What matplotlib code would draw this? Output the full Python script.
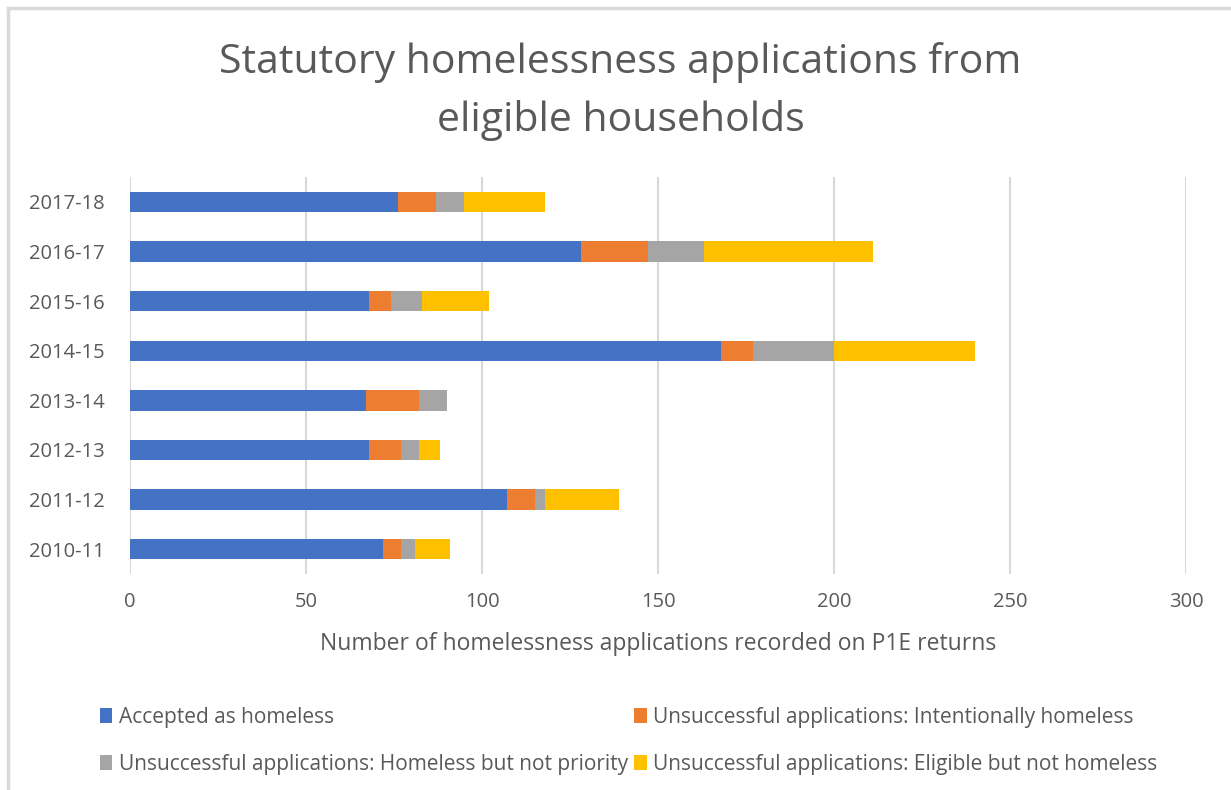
import numpy as np
import matplotlib.pyplot as plt
from matplotlib.lines import Line2D

# Financial years (bottom to top)
years = ["2010-11", "2011-12", "2012-13", "2013-14",
         "2014-15", "2015-16", "2016-17", "2017-18"]

# Values
accepted = [72, 107, 68, 67, 168, 68, 128, 76]
intentional = [5, 8, 9, 15, 9, 6, 19, 11]
not_priority = [4, 3, 5, 8, 23, 9, 16, 8]
not_homeless = [10, 21, 6, 0, 40, 19, 48, 23]

series = [
    ("Accepted as homeless", accepted, "#4472C4"),
    ("Unsuccessful applications: Intentionally homeless", intentional, "#ED7D31"),
    ("Unsuccessful applications: Homeless but not priority", not_priority, "#A5A5A5"),
    ("Unsuccessful applications: Eligible but not homeless", not_homeless, "#FFC000"),
]

plt.rcParams["font.family"] = ["Open Sans", "DejaVu Sans"]
text_col = "#595959"

fig = plt.figure(figsize=(12.31, 7.90), dpi=100)
ax = fig.add_axes([0.1056, 0.2734, 0.858, 0.5025])

y = np.arange(len(years))
left = np.zeros(len(years))
handles = []
for name, vals, col in series:
    b = ax.barh(y, vals, left=left, height=0.41, color=col, label=name, zorder=3)
    handles.append(b)
    left += np.array(vals)

ax.set_xlim(0, 300)
ax.set_ylim(-0.5, len(years) - 0.5)
ax.set_yticks(y)
ax.set_yticklabels(years)
ax.set_xticks(range(0, 301, 50))
ax.grid(axis="x", color="#d9d9d9", linewidth=1.5, zorder=0)
for s in ax.spines.values():
    s.set_visible(False)
ax.tick_params(length=0, labelsize=14.5, labelcolor=text_col)
ax.tick_params(axis="y", pad=18.5)
ax.tick_params(axis="x", pad=13)
ax.set_xlabel("Number of homelessness applications recorded on P1E returns",
              fontsize=16.5, color=text_col, labelpad=14)

fig.text(0.504, 0.884, "Statutory homelessness applications from\neligible households",
         ha="center", va="center", fontsize=29.5, color=text_col, linespacing=1.55)

order = [0, 2, 1, 3]
leg = fig.legend([handles[i] for i in order], [series[i][0] for i in order],
                 loc="center left", bbox_to_anchor=(0.066, 0.062), ncol=2,
                 frameon=False, fontsize=15, handlelength=0.6, handleheight=0.75,
                 handletextpad=0.3, columnspacing=0.3, labelspacing=1.25)
for t in leg.get_texts():
    t.set_color(text_col)

# chart border (top and left edges visible)
fig.lines.append(Line2D([8 / 1231, 1.0], [1 - 8 / 790] * 2, transform=fig.transFigure,
                        color="#d9d9d9", linewidth=2.5))
fig.lines.append(Line2D([8 / 1231] * 2, [0.0, 1 - 8 / 790], transform=fig.transFigure,
                        color="#d9d9d9", linewidth=2.5))

fig.savefig("out.png", dpi=100)
